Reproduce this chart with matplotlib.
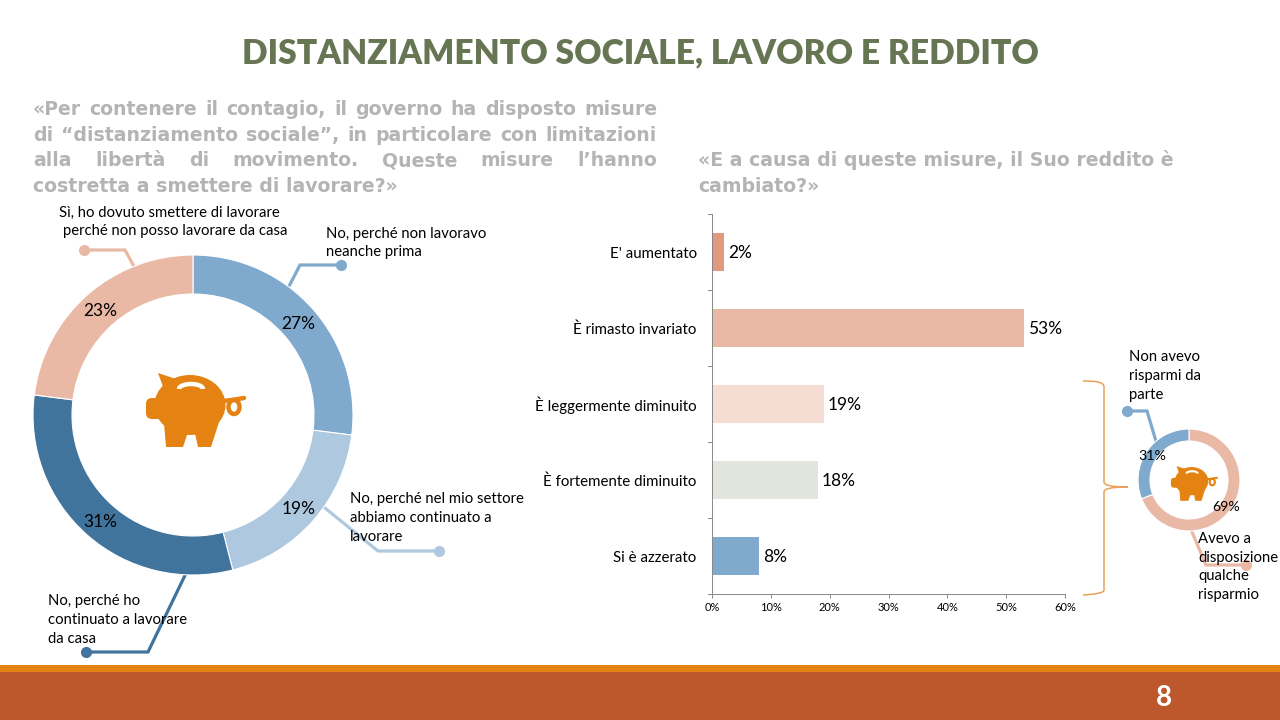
import matplotlib
matplotlib.use("Agg")
import matplotlib.pyplot as plt
from matplotlib.patches import Arc, Ellipse, PathPatch, Polygon, Rectangle, FancyBboxPatch
from matplotlib.path import Path

plt.rcParams["font.family"] = ["Lato", "DejaVu Sans"]

W, H = 1280, 720

BLUE = "#7FA9CD"
LIGHT_BLUE = "#ADC8DF"
DARK_BLUE = "#41749D"
PEACH = "#EAB9A5"
ORANGE = "#E48312"
GREY = "#B4B4B4"

work_values = [27, 19, 31, 23]
work_colors = [BLUE, LIGHT_BLUE, DARK_BLUE, PEACH]

income_labels = ["E' aumentato", "È rimasto invariato", "È leggermente diminuito",
                 "È fortemente diminuito", "Si è azzerato"]
income_values = [2, 53, 19, 18, 8]
income_colors = ["#E09B7E", PEACH, "#F6DDD3", "#E2E5DC", BLUE]
income_ticks = [0, 10, 20, 30, 40, 50, 60]

savings_values = [69, 31]
savings_colors = [PEACH, BLUE]

left_question = [
    ("«Per contenere il contagio, il governo ha disposto misure", True),
    ("di “distanziamento sociale”, in particolare con limitazioni", True),
    ("alla libertà di movimento. Queste misure l’hanno", True),
    ("costretta a smettere di lavorare?»", False),
]
right_question = [
    ("«E a causa di queste misure, il Suo reddito è", False),
    ("cambiato?»", False),
]


def axes_px(fig, x0, y0, x1, y1):
    # pixel box with y measured from the top of the picture
    return fig.add_axes([x0 / W, 1 - y1 / H, (x1 - x0) / W, (y1 - y0) / H])


def donut(fig, cx, cy, radius, hole, values, colors, fontsize):
    ax = axes_px(fig, cx - radius, cy - radius, cx + radius, cy + radius)
    _, _, pcts = ax.pie(values, colors=colors, startangle=90, counterclock=False, radius=1,
                        autopct="%.0f%%", pctdistance=(radius + hole) / 2 / radius,
                        wedgeprops={"width": (radius - hole) / radius, "edgecolor": "white", "linewidth": 0.8},
                        textprops={"fontsize": fontsize, "color": "black"})
    ax.set_xlim(-1, 1)
    ax.set_ylim(-1, 1)
    ax.set_aspect("auto")
    ax.patch.set_alpha(0)
    for t in pcts:
        x, y = t.get_position()
        t.set_position((x, y - 1.5 / radius))
    return ax


def leader(ax, xs, ys, color):
    ax.plot(xs, ys, color=color, lw=2.3, solid_joinstyle="miter", zorder=1)
    ax.plot(xs[0], ys[0], "o", color=color, ms=7, zorder=1)


def pig(ax, cx, cy, s):
    # piggy bank icon, s = 1 is the big one
    def pt(dx, dy):
        return cx + dx * s, cy + dy * s

    c = ORANGE
    ax.add_patch(Ellipse(pt(-3, -4), 71 * s, 60 * s, color=c, lw=0, zorder=4))
    ax.add_patch(Polygon([pt(-35, -36), pt(-8, -27), pt(-24, -6)], color=c, lw=0, zorder=4))
    ax.add_patch(FancyBboxPatch(pt(-47, -11), 18 * s, 21 * s,
                                boxstyle=f"round,pad=0,rounding_size={6 * s}", color=c, lw=0, zorder=4))
    ax.add_patch(Polygon([pt(-29, 14), pt(-27, 38), pt(-10, 38), pt(-4, 20)], color=c, lw=0, zorder=4))
    ax.add_patch(Polygon([pt(1, 20), pt(5, 38), pt(18, 38), pt(27, 10)], color=c, lw=0, zorder=4))
    ax.add_patch(Arc(pt(-2, -20), 24 * s, 10 * s, theta1=180, theta2=360, color="white", lw=3.2 * s, zorder=5))
    ax.add_patch(Ellipse(pt(41, -2), 11 * s, 14 * s, fc="white", ec=c, lw=3.2 * s, zorder=4))
    ax.plot(*zip(pt(30, -8), pt(39, -9), pt(51, -11)), color=c, lw=3.2 * s, solid_capstyle="round", zorder=4)


def question_lines(ax, lines, x0, x1, y_first, step):
    style = {"color": GREY, "fontsize": 13.6, "fontweight": "bold", "family": "DejaVu Sans", "va": "baseline"}
    renderer = ax.figure.canvas.get_renderer()
    for n, (line, justify) in enumerate(lines):
        y = y_first + n * step
        if not justify:
            ax.text(x0, y, line, **style)
            continue
        words = line.split(" ")
        items = [ax.text(0, y, w, **style) for w in words]
        widths = [t.get_window_extent(renderer).width for t in items]
        gap = (x1 - x0 - sum(widths)) / (len(words) - 1)
        x = x0
        for t, w in zip(items, widths):
            t.set_x(x)
            x += w + gap


fig = plt.figure(figsize=(W / 100, H / 100), dpi=100, facecolor="white")
bg = fig.add_axes([0, 0, 1, 1])
bg.set_xlim(0, W)
bg.set_ylim(H, 0)
bg.axis("off")

bg.add_patch(Rectangle((0, 665), W, 7, color=ORANGE, lw=0))
bg.add_patch(Rectangle((0, 672), W, 48, color="#BD582C", lw=0))
bg.text(1164, 698, "8", color="white", fontsize=20, fontweight="bold", ha="center", va="center")

bg.text(640, 53, "DISTANZIAMENTO SOCIALE, LAVORO E REDDITO", color="#667552", fontsize=24.2,
        fontweight="heavy", ha="center", va="center")

question_lines(bg, left_question, 33, 657, 115, 25.7)
question_lines(bg, right_question, 698, 1175, 166, 26)

# leaders go under the donuts
leader(bg, [84, 125, 137], [250, 250, 272], PEACH)
leader(bg, [341, 300, 286], [265, 265, 292], BLUE)
leader(bg, [439, 378, 320], [551, 551, 504], LIGHT_BLUE)
leader(bg, [86, 148, 190], [652, 652, 565], DARK_BLUE)
leader(bg, [1127, 1147, 1158], [411, 411, 448], BLUE)
leader(bg, [1246, 1206, 1189], [565, 565, 525], PEACH)

# donut on the left
donut(fig, 193, 415, 160, 121, work_values, work_colors, 12.5)

# income bars
ax = axes_px(fig, 712, 214, 1065, 594)
ax.barh(income_labels, income_values, color=income_colors, height=0.5)
ax.invert_yaxis()
ax.set_xlim(0, 60)
ax.set_ylim(4.5, -0.5)
ax.set_xticks(income_ticks)
ax.set_xticklabels([f"{t}%" for t in income_ticks], fontsize=8)
ax.tick_params(axis="y", labelsize=10.8, length=0, pad=11)
ax.tick_params(axis="x", length=3, width=0.7, color="#888888", pad=3)
for label in ax.get_yticklabels():
    label.set_va("center_baseline")
for side in ("top", "right"):
    ax.spines[side].set_visible(False)
for side in ("left", "bottom"):
    ax.spines[side].set_color("#888888")
    ax.spines[side].set_linewidth(0.7)
for y in [-0.5, 0.5, 1.5, 2.5, 3.5, 4.5]:
    ax.plot([0, -0.012], [y, y], transform=ax.get_yaxis_transform(), color="#888888", lw=0.7, clip_on=False)
for i, v in enumerate(income_values):
    ax.annotate(f"{v}%", (v, i), xytext=(3, -1), textcoords="offset points", va="center", fontsize=12.5)

# donut on the right
donut(fig, 1189, 480, 51, 39, savings_values, savings_colors, 10.2)

# texts and icons on top of the charts
top = fig.add_axes([0, 0, 1, 1])
top.set_xlim(0, W)
top.set_ylim(H, 0)
top.axis("off")

label_kw = {"fontsize": 10.7, "color": "black", "va": "center", "linespacing": 1.42}
top.text(59, 213, "Sì, ho dovuto smettere di lavorare", **label_kw)
top.text(63, 231, "perché non posso lavorare da casa", **label_kw)
top.text(326, 243, "No, perché non lavoravo\nneanche prima", **label_kw)
top.text(350, 518, "No, perché nel mio settore\nabbiamo continuato a\nlavorare", **label_kw)
top.text(48, 620, "No, perché ho\ncontinuato a lavorare\nda casa", **label_kw)
top.text(1129, 376, "Non avevo\nrisparmi da\nparte", **label_kw)
top.text(1198, 567, "Avevo a\ndisposizione\nqualche\nrisparmio", **label_kw)

pig(top, 193, 409, 1.0)
pig(top, 1193, 483, 0.47)

brace = Path(
    [(1083, 381), (1096, 381), (1104, 382), (1104, 387),
     (1104, 482), (1104, 485), (1110, 487), (1128, 487),
     (1110, 487), (1104, 489), (1104, 492),
     (1104, 590), (1104, 593), (1096, 594), (1083, 595)],
    [Path.MOVETO, Path.CURVE4, Path.CURVE4, Path.CURVE4,
     Path.LINETO, Path.CURVE4, Path.CURVE4, Path.CURVE4,
     Path.CURVE4, Path.CURVE4, Path.CURVE4,
     Path.LINETO, Path.CURVE4, Path.CURVE4, Path.CURVE4],
)
top.add_patch(PathPatch(brace, fc="none", ec="#E8A25A", lw=1.1))

fig.savefig("out.png", dpi=100)
